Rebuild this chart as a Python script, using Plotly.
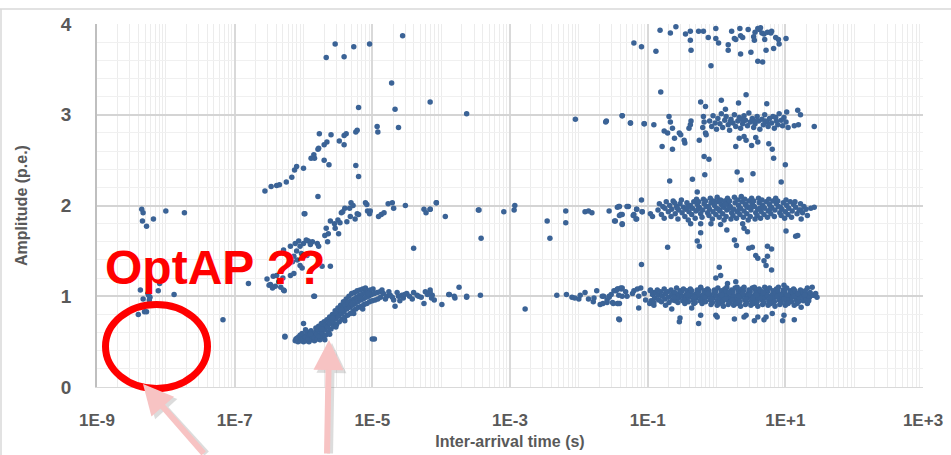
import plotly.graph_objects as go

# ---------------- data: (log10 inter-arrival time [s], amplitude [p.e.]) ----------------
optap_pts = [(-8.35,1.96),(-8.33,1.92),(-8.34,1.83),(-8.28,1.77),(-8.18,1.85),(-8.00,1.94),(-7.73,1.92),
             (-8.37,1.07),(-8.33,0.97),(-8.25,1.01),(-8.23,0.99),(-8.26,1.03),(-8.11,1.06),(-8.09,1.14),
             (-7.88,1.02),(-8.40,0.80),(-8.31,0.83),(-8.28,0.83),(-8.24,0.96),(-7.17,0.74)]

early_sparse_pts = [(-6.80,1.14),(-6.28,1.06),(-6.00,0.70),(-6.27,0.55),(-5.84,1.00),(-5.99,1.91)]

wedge_pts = [(-6.12,0.51),(-6.11,0.53),(-6.08,0.50),(-6.09,0.54),(-6.07,0.55),(-6.04,0.51),(-6.03,0.54),(-6.05,0.57),
             (-6.00,0.50),(-6.01,0.53),(-5.99,0.56),(-6.02,0.59),(-5.96,0.51),(-5.97,0.55),(-5.95,0.60),
             (-5.92,0.50),(-5.93,0.53),(-5.91,0.57),(-5.90,0.61),(-5.88,0.52),(-5.87,0.56),(-5.89,0.62),
             (-5.84,0.51),(-5.85,0.55),(-5.83,0.60),(-5.82,0.65),(-5.80,0.53),(-5.81,0.58),(-5.79,0.63),(-5.78,0.67),
             (-5.76,0.52),(-5.77,0.56),(-5.75,0.61),(-5.74,0.70),(-5.72,0.55),(-5.73,0.60),(-5.71,0.66),(-5.70,0.72),
             (-5.68,0.57),(-5.69,0.63),(-5.67,0.68),(-5.66,0.74),(-5.64,0.61),(-5.65,0.66),(-5.63,0.71),(-5.62,0.77),
             (-5.60,0.64),(-5.61,0.70),(-5.59,0.74),(-5.58,0.80),(-5.56,0.67),(-5.57,0.72),(-5.55,0.78),(-5.54,0.84),
             (-5.52,0.69),(-5.53,0.75),(-5.51,0.81),(-5.50,0.87),(-5.48,0.72),(-5.49,0.78),(-5.47,0.84),(-5.46,0.90),
             (-5.44,0.75),(-5.45,0.81),(-5.43,0.87),(-5.42,0.94),(-5.40,0.77),(-5.41,0.83),(-5.39,0.90),(-5.38,0.97),
             (-5.36,0.79),(-5.37,0.86),(-5.35,0.93),(-5.34,1.00),(-5.32,0.81),(-5.33,0.88),(-5.31,0.95),(-5.30,1.03),
             (-5.28,0.84),(-5.29,0.90),(-5.27,0.97),(-5.26,1.04),(-5.24,0.86),(-5.25,0.92),(-5.23,0.99),(-5.22,1.06),
             (-5.20,0.88),(-5.21,0.94),(-5.19,1.01),(-5.18,1.07),(-5.16,0.89),(-5.17,0.96),(-5.15,1.02),(-5.14,1.08),
             (-5.12,0.91),(-5.13,0.97),(-5.11,1.04),(-5.10,1.09),(-5.08,0.92),(-5.09,0.99),(-5.07,1.05),
             (-5.04,0.94),(-5.05,1.00),(-5.03,1.07),(-5.00,0.95),(-5.01,1.02),(-4.99,1.08),
             (-4.96,0.96),(-4.97,1.03),(-4.92,0.97),(-4.93,1.04),(-4.88,0.99),(-4.89,1.05),
             (-5.90,0.58),(-5.74,0.64),(-5.58,0.76),(-5.45,0.85),(-5.30,0.92),(-5.18,0.98),(-5.06,1.03),
             (-5.97,0.63),(-5.69,0.52),(-5.62,0.58),(-5.53,0.66),(-5.40,0.73),(-5.27,0.81),(-5.14,0.86)]

wedge_tail_pts = [(-4.84,1.03),(-4.79,1.00),(-4.74,1.01),(-4.69,0.96),(-4.67,0.89),(-4.62,1.00),(-4.57,1.01),
                  (-4.55,0.98),(-4.50,1.03),(-4.46,1.00),(-4.35,1.01),(-4.33,1.00),(-4.25,0.92),(-4.23,1.05),
                  (-4.16,1.07),(-4.13,1.01),(-3.99,0.91),(-3.89,1.02),(-3.81,1.00),(-3.74,1.10),(-3.63,1.00),
                  (-3.43,1.01),(-4.16,1.04),(-4.14,0.98),(-4.86,1.07),(-4.81,0.97),(-4.76,1.05),(-4.71,0.99),
                  (-4.64,1.04),(-4.60,0.95),(-4.53,1.02),(-4.42,0.97),(-4.40,1.04),(-4.29,0.99),(-4.20,1.02),
                  (-4.10,0.96),(-6.27,0.56),(-5.85,1.00),(-5.00,0.53),(-4.97,0.53)]

two_pe_early_pts = [(-6.56,2.16),(-6.47,2.21),(-6.39,2.22),(-6.35,2.23),(-6.25,2.26),(-6.17,2.31),(-6.13,2.39),
                    (-6.10,2.43),(-6.00,2.41),(-5.89,2.52),(-5.85,2.56),(-5.84,2.52),(-5.79,2.62),(-5.78,2.63),
                    (-5.77,2.79),(-5.70,2.50),(-5.70,2.67),(-5.66,2.70),(-5.63,2.45),(-5.60,2.78),(-5.79,2.10),
                    (-5.48,2.71),(-5.41,2.67),(-5.41,2.77),(-5.38,2.79),(-5.24,2.81),(-5.22,2.83),(-5.24,2.44),
                    (-5.20,2.32),(-4.93,2.87),(-4.92,2.81),(-4.62,2.86),
                    (-5.98,1.91),(-5.45,1.92),(-5.43,1.93),(-5.40,1.97),(-5.33,1.97),(-5.31,2.03),(-5.28,2.00),
                    (-5.20,1.90),(-5.10,2.03),(-5.08,2.01),(-5.07,1.94),(-5.04,1.91),(-5.03,1.94),(-4.91,1.88),
                    (-4.87,1.90),(-4.83,1.92),(-4.77,2.02),(-4.71,2.03),(-4.69,1.97),(-4.52,2.00),(-4.25,1.96),
                    (-4.22,1.92),(-4.16,1.96),(-4.07,2.03),(-3.94,1.88),(-4.40,1.53),(-3.45,1.95),
                    (-5.61,1.83),(-5.55,1.80),(-5.50,1.84),(-5.47,1.81),(-5.67,1.75),(-5.64,1.69),(-5.54,1.75),
                    (-5.49,1.69),(-5.37,1.82),(-5.32,1.88),(-5.25,1.85),(-5.22,1.91),(-5.69,1.67),(-5.65,1.60),
                    (-6.19,1.55),(-6.05,1.55),(-6.00,1.58),(-5.93,1.61),(-5.87,1.60),(-5.80,1.58),(-5.78,1.55),
                    (-6.29,1.51),(-6.14,1.44),(-6.09,1.40),(-6.05,1.34),(-6.02,1.31),(-6.53,1.19),(-6.44,1.22),
                    (-6.39,1.23),(-6.48,1.13),(-6.41,1.11),(-6.29,1.07),(-6.19,1.23),(-6.14,1.25),(-5.73,1.33),
                    (-5.61,1.33),(-6.12,1.58),(-6.07,1.61),(-5.96,1.62),(-5.90,1.57),(-6.10,1.50),(-6.03,1.47),
                    (-5.95,1.45),(-6.16,1.38),(-6.30,1.20),(-6.36,1.16),(-6.45,1.09),(-6.50,1.12),(-6.33,1.10)]

high_early_pts = [(-5.20,3.08),(-4.67,3.06),(-4.72,3.35),(-4.16,3.14),(-5.67,3.63),(-5.54,3.78),(-5.41,3.64),
                  (-5.27,3.75),(-5.04,3.78),(-4.56,3.87),(-3.63,3.01)]

mid_pts = [(-4.07,2.03),(-4.16,1.96),(-3.46,1.95),(-3.42,1.64),(-3.09,1.93),(-2.94,1.95),(-2.93,2.00),
           (-2.46,1.83),(-2.42,1.64),(-2.19,1.94),(-2.19,1.81),(-2.05,2.95),(-1.91,1.93),(-1.86,1.94),
           (-1.81,1.92),(-1.60,2.93),(-1.56,1.94),(-1.48,1.83),(-1.44,1.98),(-1.41,1.99),(-1.41,1.89),
           (-1.37,1.90),(-1.37,1.79),(-1.37,2.99),(-1.25,2.91),(-1.28,1.99),(-1.21,1.89),(-1.16,1.85),
           (-1.16,1.96),(-1.09,2.06),(-1.08,1.93),(-1.05,2.90),(-1.09,1.35),
           (-3.88,1.02),(-3.80,0.98),(-3.63,0.99),(-2.78,0.86),(-2.32,1.01),(-2.18,1.02),(-2.10,0.99),
           (-2.06,0.98),(-2.00,0.97),(-1.98,1.01),(-1.91,1.04),(-1.86,0.97),(-1.79,0.94),(-1.78,0.98),
           (-1.74,1.06),(-1.69,0.91),(-1.65,0.92),(-1.64,1.00),(-1.59,0.96),(-1.56,1.00),(-1.53,1.02),
           (-1.51,0.93),(-1.46,1.06),(-1.43,1.08),(-1.38,1.08),(-1.44,0.92),(-1.41,0.92),(-1.41,0.74),(-1.37,1.00)]

band1_edge_pts = [(-1.66,1.00),(-1.56,0.99),(-1.59,0.93),(-1.49,1.06),(-1.44,1.08),(-1.39,1.09),(-1.37,1.09),
                  (-1.42,1.01),(-1.50,0.92),(-1.43,0.92),(-1.32,1.05),(-1.30,1.00),(-1.22,1.03),(-1.20,1.06),
                  (-1.15,1.08),(-1.10,1.09),(-1.13,1.00),(-1.05,1.03),(-1.03,0.96),(-0.96,1.07),(-0.91,1.04),
                  (-1.42,0.75),(-1.13,0.87),(-0.97,0.92),
                  (1.32,1.09),(1.39,1.10),(1.42,1.01),(1.27,0.96),(1.32,0.92),(1.13,0.90),(1.23,0.88),
                  (-0.54,0.72),(-0.53,0.76),(-0.26,0.70),(-0.23,0.79),(-0.01,0.79),(0.01,0.77),(0.26,0.75),
                  (0.40,0.77),(0.43,0.79),(0.55,0.73),(0.60,0.77),(0.69,0.74),(0.72,0.77),(0.81,0.81),
                  (0.96,0.73),(0.98,0.79),(1.13,0.74),(-0.65,0.86),(-0.36,0.87),(-0.91,0.90),(-0.74,0.90),
                  (0.28,1.16),(0.16,1.14),(-0.23,1.10),(0.98,1.12),
                  (0.04,1.32),(0.06,1.23),(-0.01,1.20),(-0.71,1.54)]

band1_core_pts = [(-0.95,0.95),(-0.93,1.02),(-0.96,1.06),(-0.90,0.98),(-0.88,1.04),(-0.91,0.93),
                  (-0.85,1.01),(-0.84,0.96),(-0.86,1.07),(-0.80,0.94),(-0.79,1.00),(-0.81,1.05),
                  (-0.75,0.97),(-0.74,1.03),(-0.76,1.08),(-0.70,0.99),(-0.69,0.93),(-0.71,1.05),
                  (-0.65,1.02),(-0.64,0.96),(-0.66,1.07),(-0.60,0.95),(-0.59,1.00),(-0.61,1.04),(-0.58,1.09),
                  (-0.55,0.98),(-0.54,1.03),(-0.56,0.93),(-0.53,1.06),(-0.50,1.00),(-0.49,0.95),(-0.51,1.05),(-0.48,1.08),
                  (-0.45,0.97),(-0.44,1.02),(-0.46,0.92),(-0.43,1.06),(-0.40,0.99),(-0.39,1.04),(-0.41,0.94),(-0.38,1.08),
                  (-0.35,1.01),(-0.34,0.96),(-0.36,1.06),(-0.33,0.92),(-0.30,0.98),(-0.29,1.03),(-0.31,0.93),(-0.28,1.07),
                  (-0.25,1.00),(-0.24,0.95),(-0.26,1.05),(-0.23,1.09),(-0.20,0.97),(-0.19,1.02),(-0.21,0.92),(-0.18,1.06),
                  (-0.15,0.99),(-0.14,1.04),(-0.16,0.94),(-0.13,1.08),(-0.10,1.01),(-0.09,0.96),(-0.11,1.06),(-0.08,0.91),
                  (-0.05,0.98),(-0.04,1.03),(-0.06,0.93),(-0.03,1.07),
                  (0.00,1.00),(0.01,0.95),(-0.01,1.05),(0.02,1.09),(0.01,0.90),
                  (0.05,0.97),(0.06,1.02),(0.04,0.92),(0.07,1.06),
                  (0.10,0.99),(0.11,1.04),(0.09,0.94),(0.12,1.08),(0.10,0.89),
                  (0.15,1.01),(0.16,0.96),(0.14,1.06),(0.17,0.91),(0.15,1.10),
                  (0.20,0.98),(0.21,1.03),(0.19,0.93),(0.22,1.07),
                  (0.25,1.00),(0.26,0.95),(0.24,1.05),(0.27,1.09),(0.25,0.90),
                  (0.30,0.97),(0.31,1.02),(0.29,0.92),(0.32,1.06),(0.30,1.10),
                  (0.35,0.99),(0.36,1.04),(0.34,0.94),(0.37,1.08),(0.35,0.89),
                  (0.40,1.01),(0.41,0.96),(0.39,1.06),(0.42,0.91),(0.40,1.10),
                  (0.45,0.98),(0.46,1.03),(0.44,0.93),(0.47,1.07),
                  (0.50,1.00),(0.51,0.95),(0.49,1.05),(0.52,1.09),(0.50,0.90),
                  (0.55,0.97),(0.56,1.02),(0.54,0.92),(0.57,1.06),(0.55,1.10),
                  (0.60,0.99),(0.61,1.04),(0.59,0.94),(0.62,1.08),(0.60,0.89),
                  (0.65,1.01),(0.66,0.96),(0.64,1.06),(0.67,0.91),
                  (0.70,0.98),(0.71,1.03),(0.69,0.93),(0.72,1.07),(0.70,1.10),
                  (0.75,1.00),(0.76,0.95),(0.74,1.05),(0.77,1.09),(0.75,0.90),
                  (0.80,0.97),(0.81,1.02),(0.79,0.92),(0.82,1.06),
                  (0.85,0.99),(0.86,1.04),(0.84,0.94),(0.87,1.08),(0.85,0.89),
                  (0.90,1.01),(0.91,0.96),(0.89,1.06),(0.92,0.91),(0.90,1.10),
                  (0.95,0.98),(0.96,1.03),(0.94,0.93),(0.97,1.07),
                  (1.00,1.00),(1.01,0.95),(0.99,1.05),(1.02,1.09),(1.00,0.90),
                  (1.05,0.97),(1.06,1.02),(1.04,0.92),(1.07,1.06),
                  (1.10,0.99),(1.11,1.04),(1.09,0.94),(1.12,1.08),
                  (1.15,1.01),(1.16,0.96),(1.14,1.06),(1.17,0.92),
                  (1.20,0.98),(1.21,1.03),(1.19,0.94),(1.22,1.07),
                  (1.25,1.00),(1.26,0.95),(1.24,1.05),(1.30,0.97),(1.31,1.02),(1.29,1.06),
                  (1.35,0.99),(1.36,1.04),(1.34,0.95),(1.40,1.01),(1.44,1.03),(1.46,0.99),
                  (-0.42,1.01),(-0.17,0.99),(0.08,1.01),(0.23,0.96),(0.33,1.00),(0.48,1.02),(0.63,0.98),
                  (0.73,1.01),(0.88,1.00),(0.98,0.97),(1.13,1.00),(1.28,1.01),(-0.62,0.99),(-0.27,1.02),
                  (0.18,1.04),(0.43,0.97),(0.68,1.04),(0.93,1.02),(1.18,1.03),(-0.07,0.97),(0.58,1.01),
                  (0.78,0.98),(1.03,1.01),(0.38,1.03),(0.13,0.97),(-0.32,0.99),(-0.12,1.03),(0.53,0.98)]

band2_edge_pts = [(-1.47,1.83),(-1.42,1.99),(-1.37,1.80),(-1.39,1.90),(-1.30,1.99),(-1.20,1.90),(-1.16,1.96),
                  (-1.17,1.85),(-1.08,1.93),(-0.96,1.91),(-0.93,1.88),
                  (-0.375,1.80),(-0.23,1.80),(-0.08,1.80),(-0.23,1.70),(-0.28,1.61),(-0.25,1.55),(0.06,1.79),
                  (0.15,1.73),(0.26,1.62),(0.29,1.56),(0.38,1.80),(0.40,1.75),(0.45,1.71),(0.47,1.53),
                  (0.52,1.54),(0.57,1.45),(0.60,1.42),(0.69,1.39),(0.72,1.34),(0.74,1.55),(0.74,1.44),
                  (0.80,1.52),(0.80,1.29),(1.01,1.72),(1.15,1.66),(1.18,1.67),(1.23,1.85),(1.22,1.95),
                  (1.37,1.97),(1.42,1.98),
                  (-0.68,2.27),(-0.35,2.29),(-0.17,2.34),(0.36,2.28),(0.94,2.26),(-0.28,2.15)]

band2_core_pts = [(-0.85,1.95),(-0.83,2.02),(-0.80,1.90),(-0.78,1.99),(-0.75,1.97),(-0.73,2.04),(-0.76,1.86),
                  (-0.70,1.93),(-0.68,2.00),(-0.65,1.96),(-0.63,2.05),(-0.66,1.88),(-0.60,1.91),(-0.58,1.99),(-0.61,2.03),
                  (-0.55,1.95),(-0.53,2.02),(-0.56,1.85),(-0.50,1.92),(-0.48,1.98),(-0.51,2.06),
                  (-0.45,1.96),(-0.43,2.03),(-0.46,1.88),(-0.40,1.93),(-0.38,2.00),(-0.41,1.84),
                  (-0.35,1.97),(-0.33,2.04),(-0.36,1.90),(-0.30,1.94),(-0.28,2.01),(-0.31,1.86),(-0.29,2.07),
                  (-0.25,1.98),(-0.23,1.91),(-0.26,2.04),(-0.20,1.95),(-0.18,2.02),(-0.21,1.87),(-0.19,2.07),
                  (-0.15,1.99),(-0.13,1.92),(-0.16,2.05),(-0.10,1.96),(-0.08,2.03),(-0.11,1.89),(-0.09,2.08),
                  (-0.05,1.93),(-0.03,2.00),(-0.06,1.85),(-0.04,2.05),(0.00,1.97),(0.02,2.04),(-0.01,1.90),(0.01,2.09),
                  (0.05,1.94),(0.07,2.01),(0.04,1.87),(0.06,2.06),(0.10,1.98),(0.12,2.05),(0.09,1.91),(0.11,1.84),
                  (0.15,1.95),(0.17,2.02),(0.14,1.88),(0.16,2.08),(0.20,1.99),(0.22,1.92),(0.19,2.05),(0.21,1.85),
                  (0.25,1.96),(0.27,2.03),(0.24,1.89),(0.26,2.09),(0.30,1.93),(0.32,2.00),(0.29,1.86),(0.31,2.06),
                  (0.35,1.97),(0.37,2.04),(0.34,1.90),(0.36,2.10),(0.40,1.94),(0.42,2.01),(0.39,1.87),(0.41,2.07),
                  (0.45,1.98),(0.47,2.05),(0.44,1.91),(0.46,1.84),(0.50,1.95),(0.52,2.02),(0.49,1.88),(0.51,2.08),
                  (0.55,1.99),(0.57,1.92),(0.54,2.05),(0.56,1.85),(0.60,1.96),(0.62,2.03),(0.59,1.89),(0.61,2.08),
                  (0.65,1.93),(0.67,2.00),(0.64,1.86),(0.66,2.06),(0.70,1.97),(0.72,2.04),(0.69,1.90),
                  (0.75,1.94),(0.77,2.01),(0.74,1.87),(0.76,2.07),(0.80,1.98),(0.82,2.05),(0.79,1.91),
                  (0.85,1.95),(0.87,2.02),(0.84,1.88),(0.86,2.08),(0.90,1.99),(0.92,1.92),(0.89,2.05),
                  (0.95,1.96),(0.97,2.03),(0.94,1.89),(1.00,1.93),(1.02,2.00),(0.99,1.86),(1.01,2.06),
                  (1.05,1.97),(1.07,2.04),(1.04,1.90),(1.10,1.94),(1.12,2.01),(1.09,1.87),
                  (1.15,1.98),(1.17,1.91),(1.14,2.04),(1.20,1.95),(1.22,2.02),(1.25,1.92),(1.27,1.99),
                  (1.30,1.96),(1.32,1.89),
                  (-0.12,1.99),(0.03,1.96),(0.18,1.97),(0.33,1.96),(0.48,1.98),(0.63,1.97),(0.78,1.96),
                  (0.93,1.98),(-0.27,1.96),(-0.42,1.98),(-0.57,1.97),(0.13,2.01),(0.43,2.00),(0.68,1.98)]

band3_pts = [(-1.61,2.92),(-1.37,2.99),(-1.25,2.91),(-1.05,2.90),(-0.91,2.89),(-0.81,3.25),(-0.76,2.82),
             (-0.71,2.80),(-0.79,2.65),(-0.69,2.98),(-0.67,2.92),(-0.64,2.85),(-0.61,2.74),(-0.64,2.62),
             (-0.54,2.80),(-0.52,2.78),(-0.47,2.72),(-0.46,2.69),(-0.40,2.85),(-0.38,2.89),(-0.37,2.93),
             (-0.25,2.72),(-0.23,3.14),(-0.19,2.98),(-0.18,2.92),(-0.16,3.09),(-0.20,2.86),(-0.16,2.80),
             (-0.15,2.78),(0.07,3.16),(0.13,3.06),(0.32,3.13),(0.43,3.22),(0.73,3.12),(1.02,3.03),
             (1.18,3.05),(1.22,3.00),(1.42,2.87),(1.13,2.88),(1.19,2.89),
             (0.28,2.65),(0.33,2.74),(0.40,2.76),(0.43,2.72),(0.51,2.66),(0.57,2.75),(0.60,2.70),
             (0.76,2.68),(0.81,2.62),(0.83,2.52),(0.30,2.37),(0.53,2.35),(-0.18,2.54),(-0.11,2.51),(1.00,2.45),
             (-0.10,2.93),(-0.07,2.87),(-0.05,2.99),(-0.02,2.91),(0.00,2.84),(0.02,2.96),(0.05,2.90),
             (0.07,3.01),(0.09,2.86),(0.12,2.94),(0.14,2.98),(0.17,2.89),(0.19,2.83),(0.21,2.95),(0.24,2.91),
             (0.26,3.00),(0.28,2.87),(0.31,2.93),(0.33,2.97),(0.35,2.85),(0.38,2.90),(0.40,2.99),(0.42,2.94),
             (0.45,2.88),(0.47,3.02),(0.49,2.92),(0.52,2.96),(0.54,2.86),(0.56,2.90),(0.59,2.98),(0.61,2.93),
             (0.63,2.84),(0.66,2.95),(0.68,2.89),(0.70,3.00),(0.73,2.92),(0.75,2.87),(0.77,2.96),(0.80,2.91),
             (0.82,2.98),(0.84,2.85),(0.87,2.93),(0.89,2.89),(0.91,3.01),(0.94,2.94),(0.96,2.88),(0.98,2.97),
             (1.01,2.92),(1.04,2.86),(0.55,2.93),(0.36,2.95),(0.20,2.92),(0.71,2.93),(0.86,2.97)]

band4_pts = [(-1.20,3.79),(-1.09,3.75),(-0.88,3.70),(-0.82,3.93),(-0.67,3.90),(-0.59,3.97),(-0.45,3.89),
             (-0.38,3.92),(-0.38,3.82),(-0.37,3.71),(-0.26,3.92),(-0.19,3.92),(-0.12,3.85),(-0.01,3.95),
             (-0.01,3.84),(0.03,3.79),(0.17,3.77),(0.17,3.71),(0.22,3.92),(0.26,3.84),(0.28,3.83),(0.34,3.95),
             (0.35,3.87),(0.35,3.67),(0.38,3.85),(0.46,3.94),(0.50,3.69),(0.54,3.86),(0.55,3.82),(0.56,3.91),
             (0.60,3.95),(0.62,3.94),(0.64,3.96),(0.66,3.90),(0.69,3.89),(0.70,3.83),(0.72,3.71),(0.74,3.91),
             (0.79,3.90),(0.80,3.92),(0.83,3.73),(0.86,3.85),(0.90,3.83),(0.91,3.78),(1.01,3.84),(0.60,3.59),
             (0.67,3.58),(-0.08,3.54)]

clusters = [optap_pts, early_sparse_pts, wedge_pts, wedge_tail_pts, two_pe_early_pts, high_early_pts,
            mid_pts, band1_edge_pts, band1_core_pts, band2_edge_pts, band2_core_pts, band3_pts, band4_pts]

log_time = [p[0] for c in clusters for p in c]
amplitude = [p[1] for c in clusters for p in c]
inter_arrival_s = [10 ** v for v in log_time]

x_tick_vals = [1e-9, 1e-7, 1e-5, 1e-3, 1e-1, 1e1, 1e3]
x_tick_text = ["1E-9", "1E-7", "1E-5", "1E-3", "1E-1", "1E+1", "1E+3"]
y_tick_vals = [0, 1, 2, 3, 4]

# ---------------- layout helpers (pixel -> paper) ----------------
W, H = 951, 455
L, R, T, B = 97, 28, 24, 68
PW, PH = W - L - R, H - T - B


def px(x):
    return (x - L) / PW


def py(y):
    return (H - B - y) / PH


minor_x = [m * 10.0 ** k for k in range(-9, 3) for m in range(1, 10)] + [1e3]

GRAY = "#595959"
FONT = "Liberation Sans, Arial, sans-serif"

fig = go.Figure()
fig.add_trace(go.Scatter(
    x=inter_arrival_s, y=amplitude, mode="markers",
    marker=dict(size=5.5, color="#3b6396"),
    hoverinfo="x+y", showlegend=False, cliponaxis=False,
))

fig.update_layout(
    width=W, height=H,
    margin=dict(l=L, r=R, t=T, b=B, autoexpand=False),
    paper_bgcolor="white", plot_bgcolor="white",
    font=dict(family=FONT, color=GRAY),
    xaxis=dict(
        type="log", range=[-9, 3], automargin=False,
        tickmode="array", tickvals=x_tick_vals, ticktext=x_tick_text,
        tickfont=dict(size=17, color=GRAY, family=FONT, weight="bold"),
        showgrid=True, gridcolor="#d9d9d9", gridwidth=1.5,
        minor=dict(tickmode="array", tickvals=minor_x, showgrid=True,
                   gridcolor="#ececec", gridwidth=1, ticks=""),
        ticks="", ticklabelstandoff=18,
        showline=True, linecolor="#d9d9d9", linewidth=1,
        zeroline=False,
        title=dict(text="<b>Inter-arrival time (s)</b>", font=dict(size=16, color=GRAY), standoff=6),
    ),
    yaxis=dict(
        range=[0, 4], tickmode="array", tickvals=y_tick_vals, automargin=False,
        tickfont=dict(size=19, color=GRAY, family=FONT, weight="bold"),
        showgrid=True, gridcolor="#d4d4d4", gridwidth=2,
        minor=dict(dtick=0.2, showgrid=True, gridcolor="#f0f0f0", gridwidth=1, ticks=""),
        ticks="", ticklabelstandoff=20,
        showline=True, linecolor="#bfbfbf", linewidth=1.5,
        zeroline=False,
        title=dict(text="<b>Amplitude (p.e.)</b>", font=dict(size=16, color=GRAY), standoff=29),
    ),
)

# outer frame lines (top / left)
fig.add_shape(type="line", xref="paper", yref="paper", x0=px(0), x1=px(W + 5), y0=py(9), y1=py(9),
              line=dict(color="#d9d9d9", width=1.5))
fig.add_shape(type="line", xref="paper", yref="paper", x0=px(1), x1=px(1), y0=py(9), y1=py(H + 5),
              line=dict(color="#d9d9d9", width=1.5))

# red ellipse
fig.add_shape(type="circle", xref="paper", yref="paper",
              x0=px(105.5), x1=px(207.5), y0=py(388.5), y1=py(304.5),
              line=dict(color="#ff0000", width=7))

# OptAP ?? label
fig.add_annotation(xref="paper", yref="paper", x=px(103), y=py(267), xanchor="left", yanchor="middle",
                   text="<b>OptAP ??</b>", showarrow=False,
                   font=dict(size=48, color="#ff0000", family=FONT))

# pink arrows (with soft shadow)
for (hx, hy, ax, ay) in [(143, 384, 62, 86), (329, 340, -2, 130)]:
    fig.add_annotation(xref="paper", yref="paper", x=px(hx + 3), y=py(hy + 3), ax=ax, ay=ay,
                       text="", showarrow=True, arrowhead=2, arrowsize=1.0, arrowwidth=6,
                       arrowcolor="rgba(120,120,120,0.25)", standoff=0)
    fig.add_annotation(xref="paper", yref="paper", x=px(hx), y=py(hy), ax=ax, ay=ay,
                       text="", showarrow=True, arrowhead=2, arrowsize=1.0, arrowwidth=6,
                       arrowcolor="#f7c3c3", standoff=0)

# remove the browser's default 8px page margin so the figure sits at the window origin
fig.write_html("out.html", config={"displayModeBar": False},
               post_script="document.body.style.margin='0';document.body.style.overflow='hidden';")
